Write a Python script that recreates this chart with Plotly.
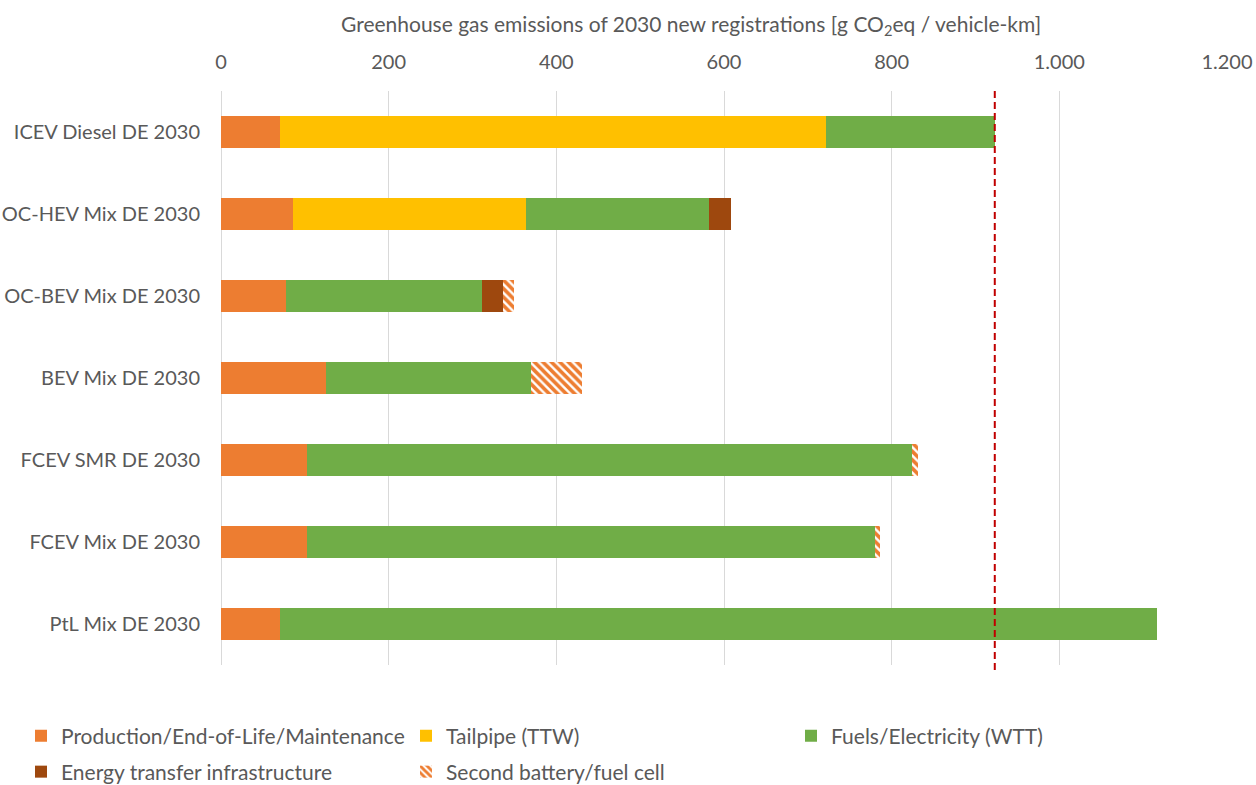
import plotly.graph_objs as go

vehicles = [
    "ICEV Diesel DE 2030",
    "OC-HEV Mix DE 2030",
    "OC-BEV Mix DE 2030",
    "BEV Mix DE 2030",
    "FCEV SMR DE 2030",
    "FCEV Mix DE 2030",
    "PtL Mix DE 2030",
]
production = [70, 86, 77, 125, 103, 103, 70]
tailpipe = [652, 278, 0, 0, 0, 0, 0]
fuels = [201, 218, 234, 245, 721, 677, 1046]
infrastructure = [0, 26, 25, 0, 0, 0, 0]
second_unit = [0, 0, 13, 61, 7, 6, 0]
x_ticks = [0, 200, 400, 600, 800, 1000, 1200]

gray_text = "#595959"
grid_color = "#d9d9d9"
font_family = "Lato, 'Open Sans', sans-serif"

# plot area in pixels (from the reference)
plot_l, plot_r, plot_t, plot_b = 221, 1227, 91, 665
plot_w = plot_r - plot_l
plot_h = plot_b - plot_t

fig = go.Figure()
series = [
    ("Production/End-of-Life/Maintenance", production, "#ED7D31", "legend"),
    ("Tailpipe (TTW)", tailpipe, "#FFC000", "legend"),
    ("Fuels/Electricity (WTT)", fuels, "#70AD47", "legend"),
    ("Energy transfer infrastructure", infrastructure, "#9E480E", "legend2"),
]
for name, values, color, leg in series:
    fig.add_trace(
        go.Bar(y=vehicles, x=values, name=name, orientation="h", legend=leg, marker={"color": color, "line": {"width": 0}})
    )

fig.add_trace(
    go.Bar(
        y=vehicles,
        x=second_unit,
        name="Second battery/fuel cell",
        orientation="h",
        legend="legend2",
        marker={
            "color": "#ED7D31",
            "line": {"width": 0},
            "pattern": {"shape": "\\", "fgcolor": "#ED7D31", "bgcolor": "white", "fillmode": "replace", "size": 6, "solidity": 0.6},
        },
    )
)

# reference: total of the diesel car
ref = production[0] + tailpipe[0] + fuels[0] + infrastructure[0] + second_unit[0]
fig.add_shape(
    type="line", xref="x", yref="paper", x0=ref, x1=ref, y0=1.0, y1=-0.012,
    line={"color": "#C00000", "width": 2, "dash": "7px,4px"},
)

fig.add_annotation(
    text="Greenhouse gas emissions of 2030 new registrations [g CO<sub>2</sub>eq / vehicle-km]",
    xref="paper", yref="paper", x=(691 - plot_l) / plot_w, y=1.0, yshift=plot_t - 25,
    showarrow=False, xanchor="center", yanchor="middle",
    font={"size": 21, "color": gray_text, "family": font_family},
)

legend_common = dict(
    orientation="h",
    x=(21 - plot_l) / plot_w,
    xanchor="left",
    yanchor="middle",
    entrywidth=340,
    entrywidthmode="pixels",
    font={"size": 21, "color": gray_text, "family": font_family},
    itemwidth=30,
    traceorder="normal",
    bgcolor="rgba(0,0,0,0)",
)

fig.update_layout(
    barmode="stack",
    bargap=0.6,
    width=1256,
    height=785,
    paper_bgcolor="white",
    plot_bgcolor="white",
    separators=",.",
    font={"family": font_family, "color": gray_text, "size": 20},
    margin=dict(l=plot_l, r=1256 - plot_r, t=plot_t, b=785 - plot_b, autoexpand=False),
    legend=dict(y=(plot_b - 736) / plot_h, **legend_common),
    legend2=dict(y=(plot_b - 772) / plot_h, **legend_common),
)
fig.update_xaxes(
    side="top",
    range=[0, 1200],
    tickvals=x_ticks,
    tickformat=",d",
    separatethousands=True,
    showgrid=True,
    gridcolor=grid_color,
    gridwidth=1,
    zeroline=True,
    zerolinecolor=grid_color,
    zerolinewidth=1,
    showline=False,
    ticks="",
    automargin=False,
    ticklabelstandoff=17,
    tickfont={"size": 20, "color": gray_text},
)
fig.update_yaxes(
    autorange="reversed",
    showgrid=False,
    ticks="",
    automargin=False,
    ticklabelstandoff=20,
    tickfont={"size": 20, "color": gray_text},
)

# drop the browser's default body margin so the figure sits at the page corner
fig.write_html(
    "out.html",
    config={"displayModeBar": False},
    post_script="document.body.style.margin = '0';",
)
